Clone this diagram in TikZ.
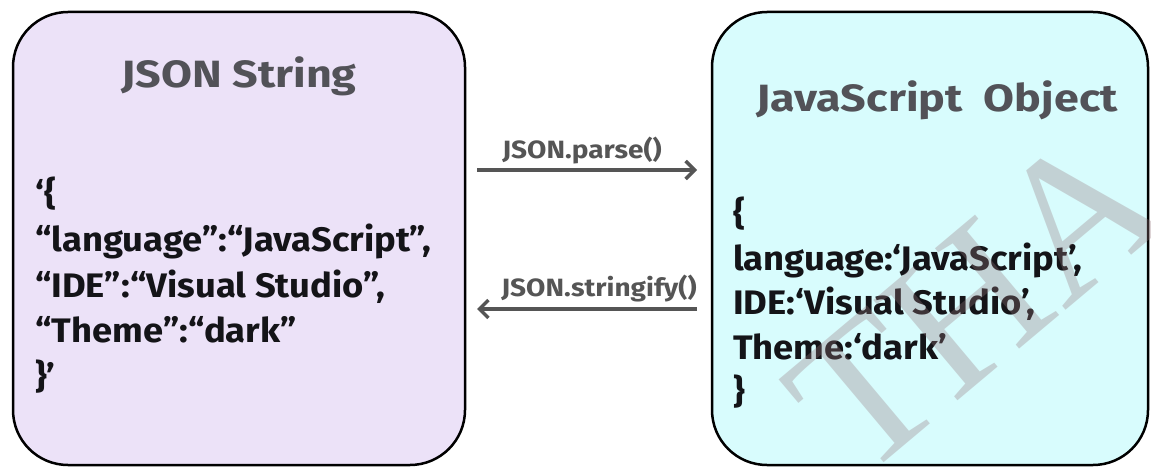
\documentclass[tikz,border=0pt]{standalone}
\usepackage{fontspec}
\setmainfont{Fira Sans}
\newfontfamily\codefont{Fira Sans}[FakeStretch=1.07]
\newfontfamily\titlefont{Fira Sans}[FakeStretch=1.18]
\newfontfamily\lblfont{Fira Sans}[FakeStretch=1.12]
\newfontfamily\wmfont{Liberation Serif}
\usetikzlibrary{arrows.meta}
\definecolor{lav}{RGB}{236,226,248}
\definecolor{cyanbg}{RGB}{216,252,253}
\definecolor{titlegray}{RGB}{82,82,88}
\definecolor{arrowgray}{RGB}{85,85,85}
\definecolor{codeblack}{RGB}{20,20,24}
\definecolor{wmcol}{RGB}{150,120,126}
\begin{document}
\begin{tikzpicture}[x=1pt,y=-1pt,
  box/.style={draw=black, line width=2.5pt, rounded corners=55pt, minimum width=452pt, minimum height=453pt, inner sep=0pt},
  titletext/.style={font=\fontsize{38}{40}\selectfont\titlefont\bfseries, text=titlegray, inner sep=0pt, anchor=base},
  code/.style={font=\fontsize{34}{40}\selectfont\codefont\bfseries, text=codeblack, inner sep=0pt, anchor=base west},
  conv/.style={draw=arrowgray, line width=3.5pt, -{Straight Barb[length=9pt,width=18pt]}},
  lbl/.style={font=\fontsize{25}{28}\selectfont\lblfont\bfseries, text=arrowgray, inner sep=0pt, anchor=base}
]
\useasboundingbox (0,0) rectangle (1151,468);
\clip (0,0) rectangle (1151,468);
\fill[white] (0,0) rectangle (1151,468);

% boxes
\node[box, fill=lav] (jsonbox) at (239,238.5) {};
\node[box, fill=cyanbg, minimum width=436pt] (jsbox) at (930,238.5) {};

% titles
\node[titletext] (jsontitle) at (239,88) {JSON String};
\node[titletext] (jstitle) at (937,112) {JavaScript\ \ Object};

% left code
\node[code] (l1) at (35,205) {‘\{};
\node[code] (l2) at (35,251) {“language”:“JavaScript”,};
\node[code] (l3) at (35,297) {“IDE”:“Visual Studio”,};
\node[code] (l4) at (35,342) {“Theme”:“dark”};
\node[code] (l5) at (35,388) {\}’};

% right code
\node[code] (r1) at (733,225) {\{};
\node[code] (r2) at (733,270) {language:‘JavaScript’,};
\node[code] (r3) at (733,314) {IDE:‘Visual Studio’,};
\node[code] (r4) at (733,359) {Theme:‘dark’};
\node[code] (r5) at (733,403) {\}};

% connectors
\coordinate (pa) at (477,170);
\coordinate (pb) at (697,170);
\coordinate (sa) at (697,309);
\coordinate (sb) at (477,309);
\draw[conv] (pa) -- (pb);
\draw[conv] (sa) -- (sb);
\node[lbl] (parselbl) at (582,158) {JSON.parse()};
\node[lbl] (strlbl) at (599,296) {JSON.stringify()};

% watermark
\node[font=\fontsize{200}{200}\selectfont\wmfont, text=wmcol, opacity=0.32, rotate=40, inner sep=0pt] (wm) at (975,300) {THA};
\end{tikzpicture}
\end{document}
